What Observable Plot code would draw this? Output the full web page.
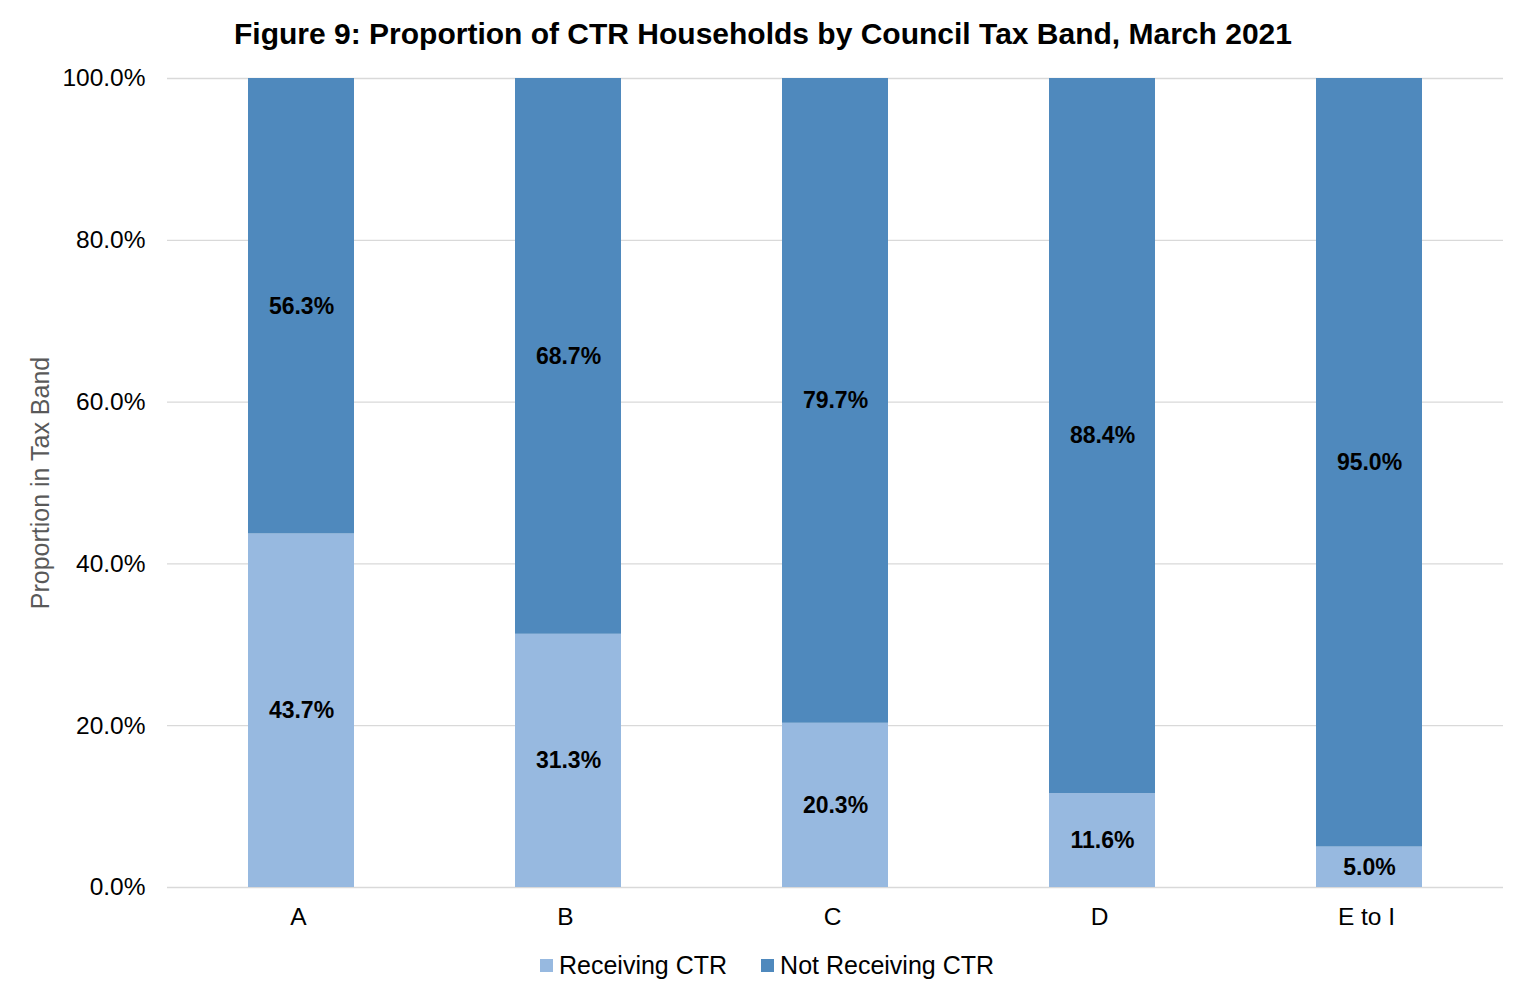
<!DOCTYPE html>
<html>
<head>
<meta charset="utf-8">
<script src="https://cdn.jsdelivr.net/npm/d3@7"></script>
<script src="https://cdn.jsdelivr.net/npm/@observablehq/plot@0.6"></script>
<style>
  body { margin: 0; background: #fff; font-family: "Liberation Sans", Arial, sans-serif; }
  #wrap { width: 1526px; height: 997px; position: relative; overflow: hidden; }
  #title { position: absolute; top: 14px; left: 0; width: 1526px; text-align: center; font-weight: bold; font-size: 30px; color: #000; line-height: 40px; height: 40px; }
  #chart { position: absolute; top: 60px; left: 0; }
  #legend { position: absolute; top: 948px; left: 4px; width: 1526px; display: flex; justify-content: center; font-size: 25px; color: #000; line-height: 34px; }
  .item { display: flex; align-items: center; margin: 0 17px; }
  .sw { width: 13px; height: 13px; margin-right: 6px; }
</style>
</head>
<body>
<div id="wrap">
  <div id="title">Figure 9: Proportion of CTR Households by Council Tax Band, March 2021</div>
  <div id="chart"></div>
  <div id="legend"></div>
</div>
<script>
const bands = ["A", "B", "C", "D", "E to I"];
const series = ["Receiving CTR", "Not Receiving CTR"];
const receiving = [0.437, 0.313, 0.203, 0.116, 0.050];
const notReceiving = [0.563, 0.687, 0.797, 0.884, 0.950];
const colors = ["#97B9E0", "#4F89BD"];
const yTicks = [0, 0.2, 0.4, 0.6, 0.8, 1.0];

const data = [];
bands.forEach((b, i) => {
  data.push({band: b, series: series[0], value: receiving[i]});
  data.push({band: b, series: series[1], value: notReceiving[i]});
});

const fmt = d3.format(".1%");

const chart = Plot.plot({
  width: 1526,
  height: 880,
  marginLeft: 167,
  marginRight: 23,
  marginTop: 18,
  marginBottom: 53,
  style: { fontFamily: "Liberation Sans, Arial, sans-serif", fontSize: "24px", background: "#fff" },
  x: { domain: bands, paddingInner: 0.603, paddingOuter: 0.3015, label: null },
  y: { domain: [0, 1], label: null },
  color: { domain: series, range: colors },
  marks: [
    Plot.ruleY(yTicks, { stroke: "#d9d9d9", strokeWidth: 1.3 }),
    Plot.barY(data, { x: "band", y: "value", fill: "series" }),
    Plot.text(data, Plot.stackY({ x: "band", y: "value", text: d => fmt(d.value), fill: "#000", fontWeight: "bold", fontSize: 23 })),
    Plot.axisX({ tickSize: 0, tickPadding: 20, fontSize: 24.5, fill: "#000", label: null, dx: -3 }),
    Plot.axisY({ ticks: yTicks, tickFormat: fmt, tickSize: 0, tickPadding: 22, fontSize: 24.5, fill: "#000", label: null }),
    Plot.text(["Proportion in Tax Band"], { frameAnchor: "left", dx: -127, rotate: -90, fill: "#595959", fontSize: 25, textAnchor: "middle" })
  ]
});
document.getElementById("chart").appendChild(chart);

const legend = document.getElementById("legend");
series.forEach((s, i) => {
  const it = document.createElement("div");
  it.className = "item";
  const sw = document.createElement("div");
  sw.className = "sw";
  sw.style.background = colors[i];
  it.appendChild(sw);
  const t = document.createElement("span");
  t.textContent = s;
  it.appendChild(t);
  legend.appendChild(it);
});
</script>
</body>
</html>
